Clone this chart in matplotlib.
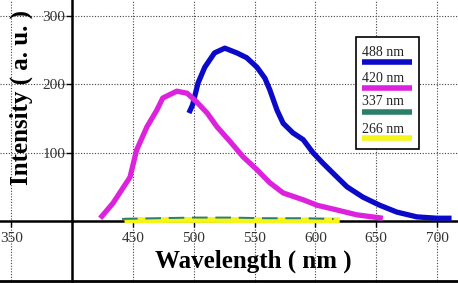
import matplotlib
matplotlib.use('Agg')
import matplotlib.pyplot as plt
from matplotlib.patches import Rectangle

plt.rcParams['font.family'] = ['Liberation Serif', 'DejaVu Serif']

# 488 nm excitation
wl_488 = [496, 499, 503.5, 509, 517, 525.5, 535.5, 543.5, 552, 558.5, 562.5, 568.5,
          573.5, 581.5, 590, 598, 606, 614.5, 626, 639, 653, 667, 683.5, 700, 712]
int_488 = [158, 170, 202, 225, 246, 253, 246, 239, 225, 209, 192, 162,
           143, 129, 119, 100, 85, 70, 50, 35, 23, 13, 6, 4, 4]

# 420 nm excitation
wl_420 = [423, 433.5, 447.5, 453, 461.5, 469.5, 474.5, 486, 494.5, 502.5, 511, 519,
          530, 540.5, 552, 562.5, 573.5, 590, 601.5, 618, 634, 655.5]
int_420 = [4, 26, 64, 104, 138, 162, 180, 190, 187, 174, 158, 138,
           116, 94, 75, 56, 41, 31, 23, 16, 9, 4]

# 337 nm excitation
wl_337 = [441, 470, 500, 530, 560, 590, 615]
int_337 = [3, 4, 5, 5, 4, 4, 3]

# 266 nm excitation
wl_266 = [443, 480, 520, 560, 600, 620]
int_266 = [1, 1.5, 1.5, 1, 1, 1]

series = [('488 nm', wl_488, int_488, '#0a0ac8', '-', 3.8),
          ('420 nm', wl_420, int_420, '#dd22dd', '-', 3.8),
          ('337 nm', wl_337, int_337, '#2b7f6a', (0, (8, 4)), 1.4),
          ('266 nm', wl_266, int_266, '#f5f51a', '-', 4.3)]

x_ticks = [350, 450, 500, 550, 600, 650, 700]
y_ticks = [100, 200, 300]

fig = plt.figure(figsize=(4.58, 2.83), dpi=100)
ax = fig.add_axes([0, 0, 1, 1])

# draw yellow before teal so the dashes show on top like the original
for name, x, y, c, ls, lw in [series[3], series[2], series[0], series[1]]:
    ax.plot(x, y, color=c, linestyle=ls, lw=lw, solid_capstyle='butt',
            solid_joinstyle='round', zorder=3)

ax.set_xlim(340.6, 717.3)
ax.set_ylim(-90.8, 323.5)

# axes crossing at (400, 0)
ax.spines['left'].set_position(('data', 400))
ax.spines['bottom'].set_position(('data', 0))
ax.spines['top'].set_visible(False)
ax.spines['right'].set_visible(False)
for s in ['left', 'bottom']:
    ax.spines[s].set_linewidth(1.8)
    ax.spines[s].set_zorder(2)

ax.set_xticks(x_ticks)
ax.set_yticks(y_ticks)
ax.tick_params(axis='both', direction='out', length=4, width=1, labelsize=11,
               labelcolor='#333333')
ax.tick_params(axis='x', pad=4)
ax.tick_params(axis='y', pad=1)

# dotted grid
for xv in x_ticks:
    ax.axvline(xv, color='#444444', ls=(0, (1, 1.5)), lw=0.8, zorder=1)
for yv in y_ticks:
    ax.axhline(yv, color='#444444', ls=(0, (1, 1.5)), lw=0.8, zorder=1)

# border line at the bottom of the picture
ax.plot([0, 1], [0.006, 0.006], transform=ax.transAxes, color='black', lw=2,
        clip_on=False)

fig.text(0.553, 0.078, 'Wavelength ( nm )', fontsize=18, fontweight='bold',
         ha='center', va='center')
fig.text(0.047, 0.657, 'Intensity ( a. u. )', fontsize=18, fontweight='bold',
         rotation=90, ha='center', va='center')

# legend: label above a thick colour bar
ax.add_patch(Rectangle((0.777, 0.473), 0.138, 0.396, transform=ax.transAxes,
                       facecolor='white', edgecolor='black', lw=1.2, zorder=5))
text_y = [0.813, 0.721, 0.640, 0.544]
bar_y = [0.781, 0.689, 0.604, 0.512]
for (name, x, y, c, ls, lw), ty, by in zip(series, text_y, bar_y):
    ax.text(0.790, ty, name, transform=ax.transAxes, fontsize=10,
            color='#222222', va='center', ha='left', zorder=6)
    ax.plot([0.790, 0.900], [by, by], transform=ax.transAxes, color=c,
            lw=4, solid_capstyle='butt', zorder=6)

fig.savefig('out.png', dpi=100)
